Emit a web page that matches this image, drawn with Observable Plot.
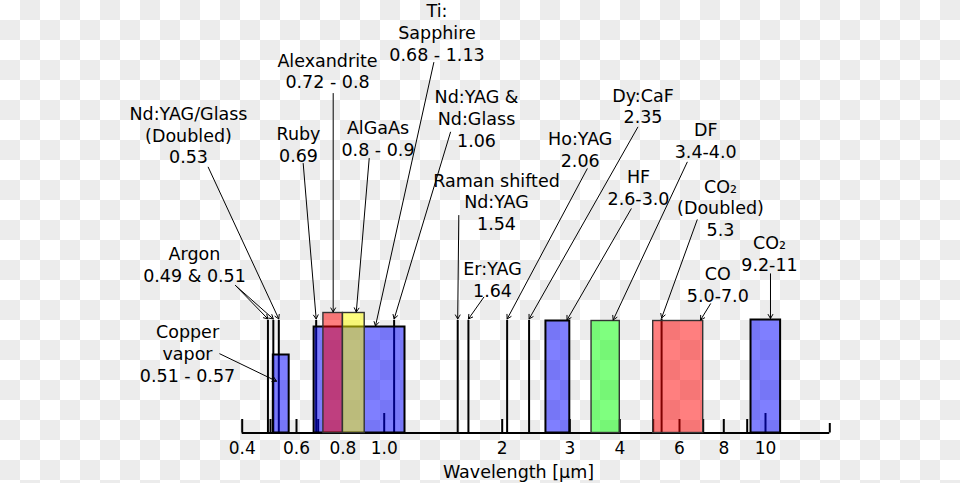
<!DOCTYPE html>
<html><head><meta charset="utf-8">
<script src="https://cdn.jsdelivr.net/npm/d3@7"></script>
<script src="https://cdn.jsdelivr.net/npm/@observablehq/plot@0.6"></script>
<style>
html,body{margin:0;padding:0;}
body{width:960px;height:483px;overflow:hidden;background:repeating-conic-gradient(#ececec 0% 25%, #ffffff 0% 50%) 0 0/40px 40px;}
#chart svg{display:block;}
</style></head><body><div id="chart"></div>
<script>
// ---- single laser lines (µm) ----
const lineNames = ["Argon", "Argon", "Nd:YAG/Glass (Doubled)", "Ruby", "Nd:YAG & Nd:Glass", "Raman shifted Nd:YAG", "Er:YAG", "Ho:YAG", "Dy:CaF", "CO₂ (Doubled)"];
const lineWavelengths = [0.49, 0.51, 0.53, 0.69, 1.06, 1.54, 1.64, 2.06, 2.35, 5.3];
const lineLevels = [112.5, 112.5, 112.5, 112.5, 112.5, 112.5, 112.5, 112.5, 112.5, 114];

// ---- tunable / band lasers (µm) ----
const bandNames = ["Copper vapor", "Ti:Sapphire", "Alexandrite", "AlGaAs", "HF", "DF", "CO", "CO₂"];
const bandStart = [0.51, 0.68, 0.72, 0.8, 2.6, 3.4, 5.0, 9.2];
const bandEnd = [0.57, 1.13, 0.8, 0.9, 3.0, 4.0, 7.0, 11];
const bandLevels = [78, 106, 120, 120, 112, 112, 112, 113];

// ---- axis ----
const axisStops = [0.4, 0.5, 0.6, 0.7, 1, 2, 3, 4, 5, 6, 7, 8, 9, 10, 15];
const tickValues = [0.4, 0.5, 0.6, 0.7, 1, 2, 3, 4, 5, 6, 7, 8, 9, 10];
const tickLabelValues = [0.4, 0.6, 0.8, 1, 2, 3, 4, 6, 8, 10];
const tickLabels = ["0.4", "0.6", "0.8", "1.0", "2", "3", "4", "6", "8", "10"];
const axisTitle = "Wavelength [µm]";

// ---- annotation labels (x in µm, y in level units) ----
const labelTexts = [
  "Nd:YAG/Glass\n(Doubled)\n0.53", "Argon\n0.49 & 0.51", "Copper\nvapor\n0.51 - 0.57",
  "Ruby\n0.69", "Alexandrite\n0.72 - 0.8", "AlGaAs\n0.8 - 0.9", "Ti:\nSapphire\n0.68 - 1.13",
  "Nd:YAG &\nNd:Glass\n1.06", "Raman shifted\nNd:YAG\n1.54", "Er:YAG\n1.64", "Ho:YAG\n2.06",
  "Dy:CaF\n2.35", "HF\n2.6-3.0", "DF\n3.4-4.0", "CO₂\n(Doubled)\n5.3", "CO\n5.0-7.0", "CO₂\n9.2-11"
];
const labelX = [0.2619, 0.2746, 0.2599, 0.6086, 0.7361, 0.967, 1.3636, 1.7198, 1.934, 1.8893, 3.185, 4.6706, 4.5323, 7.1144, 7.8307, 7.6948, 10.255];
const labelTop = [328.3, 188.3, 110, 308.3, 381.7, 314.3, 431, 345, 261.7, 173.3, 303.3, 346.7, 265, 312.3, 255.7, 168.3, 199];

// ---- pointer arrows ----
const arrowFromX = [0.306, 0.3794, 0.3794, 0.3352, 0.6292, 0.7591, 0.9221, 1.3383, 1.4762, 1.5499, 1.7953, 3.3159, 4.5111, 4.3166, 6.3082, 6.732, 7.3392, 10.32];
const arrowFromY = [265.8, 147.5, 147.5, 79.2, 269.5, 339.5, 274.5, 370.5, 300.8, 217.5, 135.8, 264.2, 305.8, 224.2, 270.8, 213.2, 129.2, 159.2];
const arrowToX = [0.53, 0.49, 0.51, 0.5215, 0.69, 0.759, 0.86, 0.954, 1.06, 1.54, 1.64, 2.06, 2.35, 2.95, 3.85, 5.3, 6.88, 10.32];
const arrowToY = [114, 114, 114, 51.8, 114, 121, 121, 107, 114, 114, 114, 114, 114, 113, 113, 115, 113, 114.5];

// ---- styles ----
const bandFill = {"Copper vapor": "#0000ff", "Ti:Sapphire": "#0000ff", "Alexandrite": "#ff0000", "AlGaAs": "#ffff00", "HF": "#0000ff", "DF": "#00ff00", "CO": "#ff0000", "CO₂": "#0000ff"};

const lines = lineNames.map((name, i) => ({name, x: lineWavelengths[i], level: lineLevels[i]}));
const bands = bandNames.map((name, i) => ({name, x1: bandStart[i], x2: bandEnd[i], level: bandLevels[i]}));
const labels = labelTexts.map((text, i) => ({text, x: labelX[i], y: labelTop[i]}));
const arrows = arrowFromX.map((x1, i) => ({x1, y1: arrowFromY[i], x2: arrowToX[i], y2: arrowToY[i]}));
const isBlue = d => bandFill[d.name] === "#0000ff";

const chart = Plot.plot({
  width: 960, height: 483,
  marginTop: 0, marginRight: 0, marginBottom: 0, marginLeft: 0,
  style: {background: "transparent", fontFamily: "'DejaVu Sans', sans-serif", fontSize: "17.5px", overflow: "visible"},
  x: {type: "log", domain: axisStops, range: [241.7, 270, 296, 317.7, 383.7, 501.7, 569.3, 619.3, 652.7, 679, 702.7, 723.3, 746.7, 765, 829.3], axis: null},
  y: {domain: [0, 120], range: [432.5, 312.5], axis: null},
  marks: [
    Plot.ruleY([0], {x1: axisStops[0], x2: axisStops[axisStops.length - 1], stroke: "black", strokeWidth: 2}),
    Plot.ruleX(tickValues, {x: d => d, y1: 0, y2: d => (d === 1 || d === 10) ? 19.5 : 13.5, stroke: "black", strokeWidth: 2}),
    Plot.ruleX([axisStops[axisStops.length - 1]], {x: d => d, y1: 0, y2: 9.5, stroke: "black", strokeWidth: 2}),
    Plot.ruleX(lines, {x: "x", y1: 0, y2: "level", stroke: "black", strokeWidth: 2}),
    Plot.rect(bands.filter(isBlue), {x1: "x1", x2: "x2", y1: 0, y2: "level", fill: d => bandFill[d.name], fillOpacity: 0.5, stroke: "black", strokeWidth: 2}),
    Plot.rect(bands.filter(d => !isBlue(d)), {x1: "x1", x2: "x2", y1: 0, y2: "level", fill: d => bandFill[d.name], fillOpacity: 0.5, stroke: "#333", strokeWidth: 1.4}),
    Plot.arrow(arrows, {x1: "x1", y1: "y1", x2: "x2", y2: "y2", stroke: "black", strokeWidth: 1, headLength: 7}),
    Plot.text(labels, {x: "x", y: "y", text: "text", lineAnchor: "top", lineHeight: 1.24, fontSize: 17.5, fill: "black", textAnchor: "middle"}),
    Plot.text(tickLabelValues, {x: d => d, y: -9.2, text: (d, i) => tickLabels[i], lineAnchor: "top", fontSize: 17, fill: "black"}),
    Plot.text([axisTitle], {x: 2.2054, y: -32.5, text: d => d, lineAnchor: "top", fontSize: 17.5, fill: "black"})
  ]
});
document.getElementById("chart").appendChild(chart);
</script>
</body></html>
